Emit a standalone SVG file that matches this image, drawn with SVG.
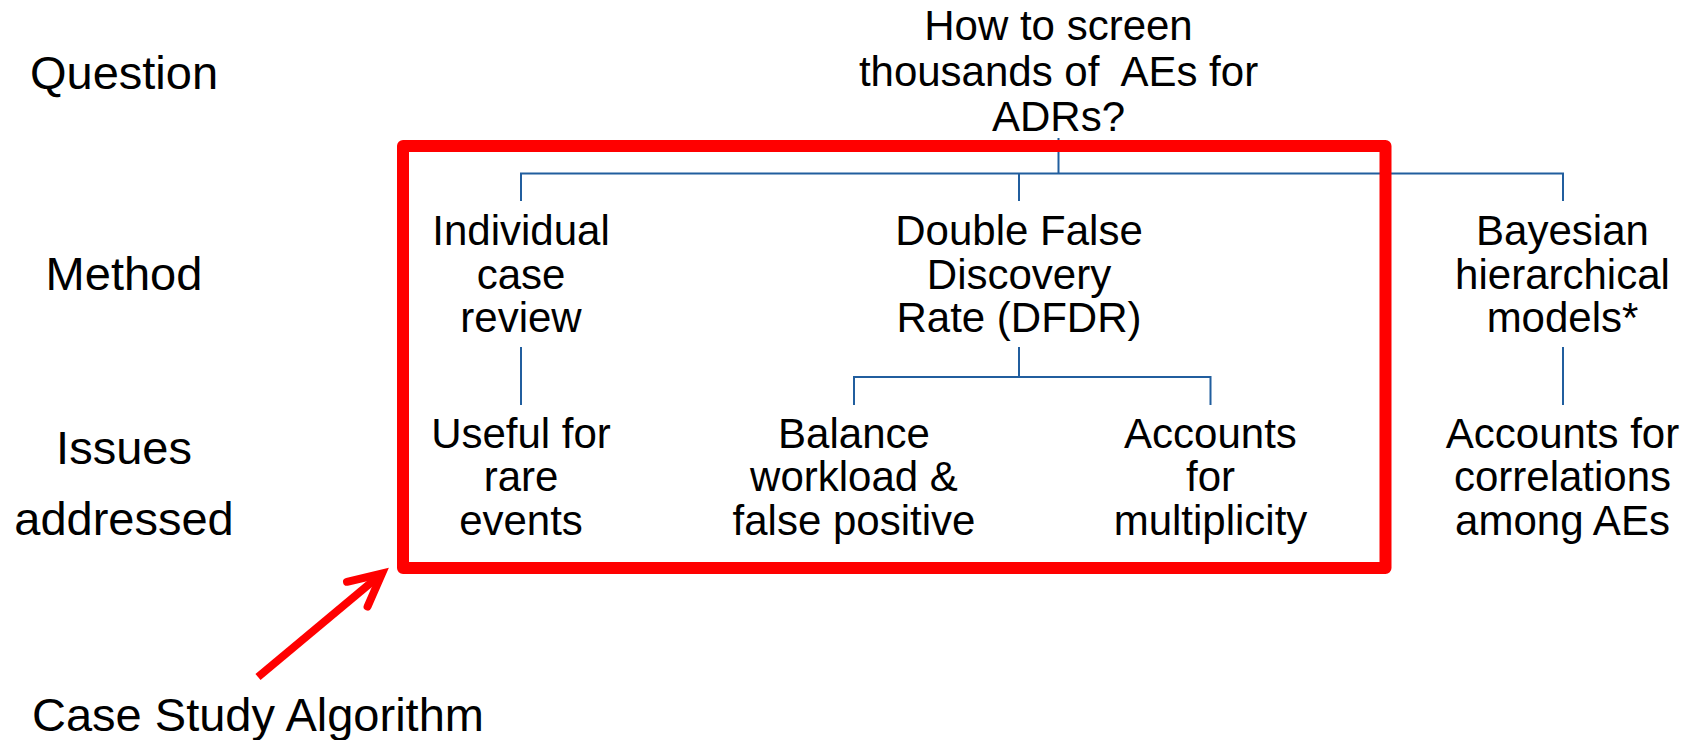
<svg xmlns="http://www.w3.org/2000/svg" width="1702" height="740" viewBox="0 0 1702 740">
  <style>
    text { font-family: "Liberation Sans", Arial, sans-serif; fill: #000; text-anchor: middle; }
    .row { font-size: 47px; }
    .node { font-size: 42px; }
    .caption { font-size: 47px; }
    .link { fill: none; stroke: #215E9E; stroke-width: 2; stroke-linecap: butt; stroke-linejoin: miter; }
    .frame { fill: none; stroke: #FF0000; stroke-width: 12; stroke-linejoin: round; }
    .pointer { fill: none; stroke: #FF0000; stroke-width: 8; }
  </style>

  <rect width="1702" height="740" fill="#FFFFFF"/>

  <!-- row labels -->
  <g id="row-labels">
    <text class="row" x="124" y="88.5">Question</text>
    <text class="row" x="124" y="290">Method</text>
    <text class="row" x="124" y="464">Issues</text>
    <text class="row" x="124" y="535">addressed</text>
  </g>

  <!-- tree connectors -->
  <g id="connectors">
    <path class="link" d="M1058.5 138 V173.5"/>
    <path class="link" d="M521 201 V173.5 H1563 V201"/>
    <path class="link" d="M1019 173.5 V201"/>
    <path class="link" d="M521 347 V405"/>
    <path class="link" d="M1019 347 V377"/>
    <path class="link" d="M854 405 V377 H1210.5 V405"/>
    <path class="link" d="M1563 347 V405"/>
  </g>

  <!-- question -->
  <g id="question">
    <text class="node" x="1058.5" y="40">How to screen</text>
    <text class="node" x="1058.5" y="86" style="white-space:pre">thousands of  AEs for</text>
    <text class="node" x="1058.5" y="131">ADRs?</text>
  </g>

  <!-- methods -->
  <g id="method-individual">
    <text class="node" x="521" y="245">Individual</text>
    <text class="node" x="521" y="288.5">case</text>
    <text class="node" x="521" y="332">review</text>
  </g>
  <g id="method-dfdr">
    <text class="node" x="1019" y="245">Double False</text>
    <text class="node" x="1019" y="288.5">Discovery</text>
    <text class="node" x="1019" y="332">Rate (DFDR)</text>
  </g>
  <g id="method-bayesian">
    <text class="node" x="1562.5" y="245">Bayesian</text>
    <text class="node" x="1562.5" y="288.5">hierarchical</text>
    <text class="node" x="1562.5" y="332">models*</text>
  </g>

  <!-- issues addressed -->
  <g id="issue-rare">
    <text class="node" x="521" y="447.5">Useful for</text>
    <text class="node" x="521" y="491">rare</text>
    <text class="node" x="521" y="534.5">events</text>
  </g>
  <g id="issue-balance">
    <text class="node" x="854" y="447.5">Balance</text>
    <text class="node" x="854" y="491">workload &amp;</text>
    <text class="node" x="854" y="534.5">false positive</text>
  </g>
  <g id="issue-multiplicity">
    <text class="node" x="1210.5" y="447.5">Accounts</text>
    <text class="node" x="1210.5" y="491">for</text>
    <text class="node" x="1210.5" y="534.5">multiplicity</text>
  </g>
  <g id="issue-correlations">
    <text class="node" x="1562.5" y="447.5">Accounts for</text>
    <text class="node" x="1562.5" y="491">correlations</text>
    <text class="node" x="1562.5" y="534.5">among AEs</text>
  </g>

  <!-- highlighted case-study frame with pointer -->
  <g id="case-study">
    <rect class="frame" x="403" y="146" width="982.5" height="422"/>
    <path class="pointer" d="M258 677 L382 573.5" stroke-linecap="butt"/>
    <path class="pointer" d="M347 581.8 L382 573.5 L367.6 606.5" stroke-linecap="round" stroke-linejoin="miter"/>
    <text class="caption" x="258" y="731">Case Study Algorithm</text>
  </g>
</svg>
